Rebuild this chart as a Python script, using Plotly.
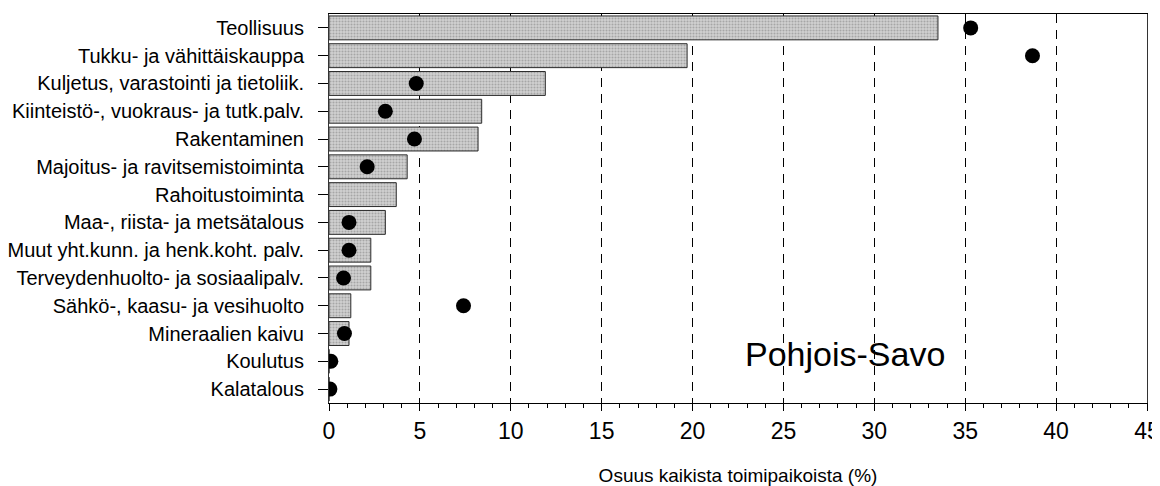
import plotly.graph_objects as go

categories = [
    "Teollisuus",
    "Tukku- ja vähittäiskauppa",
    "Kuljetus, varastointi ja tietoliik.",
    "Kiinteistö-, vuokraus- ja tutk.palv.",
    "Rakentaminen",
    "Majoitus- ja ravitsemistoiminta",
    "Rahoitustoiminta",
    "Maa-, riista- ja metsätalous",
    "Muut yht.kunn. ja henk.koht. palv.",
    "Terveydenhuolto- ja sosiaalipalv.",
    "Sähkö-, kaasu- ja vesihuolto",
    "Mineraalien kaivu",
    "Koulutus",
    "Kalatalous",
]
bar_values = [33.5, 19.7, 11.9, 8.4, 8.2, 4.3, 3.7, 3.1, 2.3, 2.3, 1.2, 1.1, 0.0, 0.0]
dot_values = [35.3, 38.7, 4.8, 3.1, 4.7, 2.1, None, 1.1, 1.1, 0.8, 7.4, 0.85, 0.1, 0.05]
x_ticks = [0, 5, 10, 15, 20, 25, 30, 35, 40, 45]

FONT = "Liberation Sans, Arial, Helvetica, sans-serif"

fig = go.Figure()
fig.add_trace(go.Bar(
    x=bar_values, y=categories, orientation="h",
    width=0.86,
    marker=dict(
        color="#cccccc",
        line=dict(color="#2a2a2a", width=1),
        pattern=dict(shape=".", fgcolor="#7a7a7a", bgcolor="#d2d2d2", size=3, solidity=0.4),
    ),
    showlegend=False,
))
fig.add_trace(go.Scatter(
    x=dot_values, y=categories, mode="markers",
    marker=dict(color="black", size=15, line=dict(width=0)),
    showlegend=False,
))

fig.add_annotation(
    x=28.4, y=11.75, xref="x", yref="y",
    text="Pohjois-Savo", showarrow=False,
    font=dict(family=FONT, size=34, color="black"),
    xanchor="center", yanchor="middle",
)

# the page body adds an 8px margin, so the figure is sized to fit the window
fig.update_layout(
    width=1152, height=478,
    margin=dict(l=321, r=13, t=6, b=83),
    paper_bgcolor="white", plot_bgcolor="white",
    font=dict(family=FONT, color="black"),
    bargap=0.14,
)
fig.update_xaxes(
    range=[0, 45], tickvals=x_ticks, ticktext=[str(v) for v in x_ticks],
    automargin=False,
    showline=True, linecolor="black", linewidth=1, mirror=True,
    ticks="outside", ticklen=7, tickcolor="black",
    minor=dict(dtick=1, ticks="outside", ticklen=4, tickcolor="black", showgrid=False),
    showgrid=True, gridcolor="black", gridwidth=1, griddash="9px,7px",
    zeroline=False,
    ticklabeloverflow="allow",
    tickfont=dict(size=23, family=FONT),
    title=dict(text="Osuus kaikista toimipaikoista (%)", font=dict(size=19, family=FONT), standoff=26),
)
fig.update_yaxes(
    type="category", categoryorder="array", categoryarray=categories,
    range=[13.5, -0.5],
    automargin=False,
    showline=True, linecolor="#333333", linewidth=1, mirror=True,
    ticks="outside", ticklen=10, tickcolor="black",
    ticklabelstandoff=10,
    showgrid=False, zeroline=False,
    tickfont=dict(size=20, family=FONT),
)

fig.write_html("out.html")
